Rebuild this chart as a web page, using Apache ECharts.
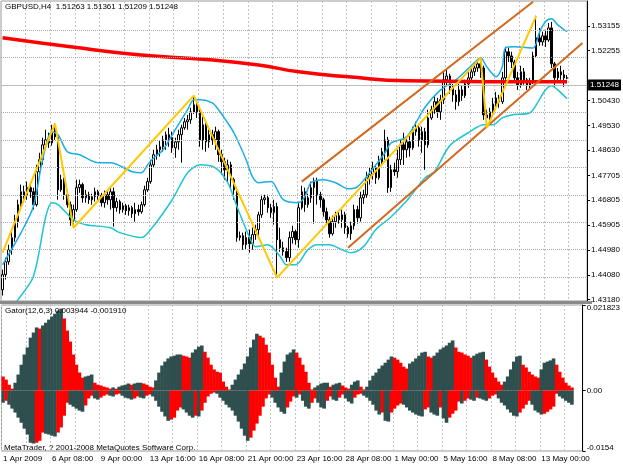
<!DOCTYPE html>
<html><head><meta charset="utf-8">
<script src="https://cdn.jsdelivr.net/npm/echarts@6/dist/echarts.min.js"></script>
<style>html,body{margin:0;padding:0;background:#fff}#c{width:623px;height:467px}</style>
</head><body><div id="c"></div>
<script>
const symbolTitle = 'GBPUSD,H4';
const lastQuote = [1.51263, 1.51361, 1.51209, 1.51248]; // open, high, low, close of the last bar
const opens = [
1.4354,1.4409,1.4456,1.4500,1.4544,1.4602,1.4664,1.4711,1.4697,1.4726,
1.4711,1.4664,1.4784,1.4828,1.4882,1.4900,1.4889,1.4937,1.4911,1.4718,
1.4755,1.4700,1.4664,1.4609,1.4646,1.4726,1.4737,1.4689,1.4700,1.4682,
1.4693,1.4711,1.4697,1.4671,1.4700,1.4682,1.4711,1.4653,1.4675,1.4646,
1.4660,1.4642,1.4653,1.4631,1.4646,1.4638,1.4664,1.4718,1.4748,1.4809,
1.4846,1.4864,1.4875,1.4900,1.4919,1.4908,1.4871,1.4893,1.4919,1.4944,
1.4966,1.4973,1.5002,1.5028,1.5002,1.4900,1.4955,1.4893,1.4919,1.4900,
1.4930,1.4846,1.4820,1.4791,1.4809,1.4755,1.4718,1.4544,1.4551,1.4518,
1.4544,1.4522,1.4555,1.4573,1.4627,1.4682,1.4689,1.4653,1.4635,1.4657,
1.4536,1.4507,1.4493,1.4471,1.4544,1.4566,1.4536,1.4653,1.4711,1.4664,
1.4689,1.4726,1.4748,1.4700,1.4682,1.4638,1.4609,1.4558,1.4602,1.4624,
1.4609,1.4627,1.4580,1.4558,1.4587,1.4646,1.4616,1.4689,1.4700,1.4762,
1.4773,1.4798,1.4762,1.4820,1.4857,1.4900,1.4726,1.4791,1.4784,1.4828,
1.4882,1.4864,1.4893,1.4871,1.4930,1.4944,1.4900,1.4930,1.4882,1.4980,
1.5010,1.5039,1.5002,1.5046,1.5119,1.5133,1.5090,1.5064,1.5039,1.5082,
1.5061,1.5104,1.5126,1.5148,1.5162,1.5177,1.5162,1.4991,1.4980,1.5002,
1.5031,1.5053,1.5039,1.5126,1.5221,1.5206,1.5184,1.5126,1.5101,1.5148,
1.5119,1.5097,1.5112,1.5206,1.5272,1.5257,1.5279,1.5264,1.5308,1.5177,
1.5126,1.5148,1.5137];
const closes = [
1.4409,1.4456,1.4500,1.4544,1.4602,1.4664,1.4711,1.4697,1.4726,1.4711,
1.4664,1.4784,1.4828,1.4882,1.4900,1.4889,1.4937,1.4911,1.4718,1.4755,
1.4700,1.4664,1.4609,1.4646,1.4726,1.4737,1.4689,1.4700,1.4682,1.4693,
1.4711,1.4697,1.4671,1.4700,1.4682,1.4711,1.4653,1.4675,1.4646,1.4660,
1.4642,1.4653,1.4631,1.4646,1.4638,1.4664,1.4718,1.4748,1.4809,1.4846,
1.4864,1.4875,1.4900,1.4919,1.4908,1.4871,1.4893,1.4919,1.4944,1.4966,
1.4973,1.5002,1.5028,1.5002,1.4900,1.4955,1.4893,1.4919,1.4900,1.4930,
1.4846,1.4820,1.4791,1.4809,1.4755,1.4718,1.4544,1.4551,1.4518,1.4544,
1.4522,1.4555,1.4573,1.4627,1.4682,1.4689,1.4653,1.4635,1.4657,1.4536,
1.4507,1.4493,1.4471,1.4544,1.4566,1.4536,1.4653,1.4711,1.4664,1.4689,
1.4726,1.4748,1.4700,1.4682,1.4638,1.4609,1.4558,1.4602,1.4624,1.4609,
1.4627,1.4580,1.4558,1.4587,1.4646,1.4616,1.4689,1.4700,1.4762,1.4773,
1.4798,1.4762,1.4820,1.4857,1.4900,1.4726,1.4791,1.4784,1.4828,1.4882,
1.4864,1.4893,1.4871,1.4930,1.4944,1.4900,1.4930,1.4882,1.4980,1.5010,
1.5039,1.5002,1.5046,1.5119,1.5133,1.5090,1.5064,1.5039,1.5082,1.5061,
1.5104,1.5126,1.5148,1.5162,1.5177,1.5162,1.4991,1.4980,1.5002,1.5031,
1.5053,1.5039,1.5126,1.5221,1.5206,1.5184,1.5126,1.5101,1.5148,1.5119,
1.5097,1.5112,1.5206,1.5272,1.5257,1.5279,1.5264,1.5308,1.5177,1.5126,
1.5148,1.5137,1.5126];
const highs = [
1.4427,1.4471,1.4518,1.4566,1.4627,1.4682,1.4737,1.4733,1.4748,1.4744,
1.4726,1.4809,1.4853,1.4908,1.4937,1.4926,1.4955,1.4959,1.4919,1.4773,
1.4762,1.4718,1.4675,1.4664,1.4755,1.4755,1.4744,1.4718,1.4711,1.4704,
1.4726,1.4718,1.4707,1.4715,1.4718,1.4729,1.4726,1.4689,1.4682,1.4671,
1.4667,1.4664,1.4660,1.4671,1.4664,1.4675,1.4733,1.4762,1.4828,1.4864,
1.4882,1.4897,1.4915,1.4930,1.4944,1.4930,1.4908,1.4937,1.4955,1.4980,
1.4991,1.5017,1.5061,1.5046,1.5017,1.4984,1.4966,1.4944,1.4937,1.4948,
1.4937,1.4864,1.4835,1.4828,1.4820,1.4762,1.4726,1.4566,1.4562,1.4566,
1.4573,1.4580,1.4591,1.4638,1.4700,1.4700,1.4700,1.4667,1.4682,1.4671,
1.4580,1.4529,1.4507,1.4566,1.4587,1.4573,1.4675,1.4733,1.4726,1.4704,
1.4748,1.4762,1.4762,1.4711,1.4689,1.4653,1.4620,1.4624,1.4638,1.4638,
1.4646,1.4638,1.4587,1.4602,1.4664,1.4660,1.4711,1.4718,1.4784,1.4798,
1.4820,1.4809,1.4842,1.4871,1.4937,1.4911,1.4809,1.4817,1.4864,1.4900,
1.4926,1.4908,1.4919,1.4948,1.4966,1.4955,1.4948,1.4944,1.5010,1.5024,
1.5061,1.5053,1.5064,1.5148,1.5155,1.5141,1.5104,1.5082,1.5104,1.5097,
1.5119,1.5148,1.5166,1.5181,1.5192,1.5199,1.5170,1.5010,1.5017,1.5053,
1.5075,1.5064,1.5148,1.5239,1.5235,1.5221,1.5192,1.5148,1.5170,1.5162,
1.5126,1.5126,1.5221,1.5352,1.5308,1.5294,1.5301,1.5326,1.5330,1.5184,
1.5162,1.5170,1.5155];
const lows = [
1.4333,1.4391,1.4445,1.4482,1.4529,1.4580,1.4646,1.4671,1.4682,1.4689,
1.4646,1.4657,1.4769,1.4809,1.4864,1.4871,1.4879,1.4900,1.4682,1.4711,
1.4682,1.4653,1.4587,1.4580,1.4638,1.4707,1.4671,1.4671,1.4667,1.4664,
1.4675,1.4682,1.4657,1.4653,1.4664,1.4646,1.4584,1.4638,1.4631,1.4635,
1.4627,1.4624,1.4616,1.4602,1.4624,1.4631,1.4657,1.4711,1.4740,1.4798,
1.4828,1.4839,1.4857,1.4864,1.4875,1.4853,1.4835,1.4864,1.4817,1.4937,
1.4937,1.4959,1.4995,1.4980,1.4875,1.4864,1.4857,1.4871,1.4882,1.4864,
1.4820,1.4773,1.4755,1.4744,1.4718,1.4682,1.4529,1.4533,1.4500,1.4500,
1.4489,1.4500,1.4536,1.4547,1.4616,1.4664,1.4635,1.4616,1.4591,1.4398,
1.4493,1.4478,1.4456,1.4456,1.4522,1.4518,1.4507,1.4646,1.4638,1.4653,
1.4671,1.4595,1.4664,1.4653,1.4620,1.4595,1.4544,1.4551,1.4580,1.4595,
1.4580,1.4558,1.4544,1.4536,1.4573,1.4595,1.4602,1.4667,1.4689,1.4737,
1.4755,1.4740,1.4755,1.4809,1.4828,1.4707,1.4711,1.4769,1.4762,1.4809,
1.4809,1.4835,1.4839,1.4864,1.4915,1.4875,1.4853,1.4791,1.4871,1.4973,
1.4995,1.4980,1.4973,1.5031,1.5097,1.5068,1.5039,1.5010,1.5024,1.5042,
1.5053,1.5090,1.5112,1.5133,1.5148,1.5126,1.4973,1.4944,1.4966,1.4995,
1.5010,1.5017,1.5031,1.5119,1.5184,1.5162,1.5112,1.5082,1.5090,1.5101,
1.5082,1.5082,1.5104,1.5199,1.5243,1.5243,1.5239,1.5257,1.5162,1.5090,
1.5112,1.5119,1.5093];
const timeLabels = ['1 Apr 2009','6 Apr 08:00','9 Apr 00:00','13 Apr 16:00','16 Apr 08:00','21 Apr 00:00','23 Apr 16:00','28 Apr 08:00','1 May 00:00','5 May 16:00','8 May 08:00','13 May 00:00'];
const priceTicks = [1.53155,1.52255,1.50430,1.49530,1.48630,1.47705,1.46805,1.45905,1.44980,1.44080,1.43180];
const priceGridLevels = [1.53155,1.52255,1.51330,1.50430,1.49530,1.48630,1.47705,1.46805,1.45905,1.44980,1.44080];
const maLine = [[0,1.5272],[22,1.5239],[44,1.5210],[67,1.5192],[83,1.5173],[96,1.5148],[112,1.5130],[131,1.5115],[157,1.5112],[183,1.5112]];
const bandUpper = [[0,1.4445],[6,1.4562],[10,1.4657],[13,1.4828],[16,1.4930],[18,1.4919],[21,1.4857],[25,1.4846],[31,1.4817],[35,1.4817],[42,1.4784],[45,1.4780],[47,1.4809],[49,1.4834],[52,1.4863],[56,1.4937],[60,1.5010],[62,1.5046],[64,1.5046],[68,1.5035],[70,1.5010],[73,1.4962],[75,1.4926],[79,1.4827],[81,1.4766],[83,1.4744],[87,1.4748],[91,1.4682],[96,1.4671],[98,1.4693],[100,1.4744],[104,1.4755],[108,1.4744],[112,1.4722],[115,1.4729],[119,1.4780],[124,1.4853],[126,1.4889],[131,1.4911],[137,1.5020],[142,1.5082],[147,1.5119],[154,1.5192],[155,1.5199],[157,1.5166],[160,1.5130],[162,1.5166],[163,1.5235],[166,1.5239],[172,1.5235],[174,1.5290],[176,1.5330],[178,1.5341],[180,1.5319],[183,1.5294]];
const bandLower = [[0,1.4242],[5,1.4318],[10,1.4402],[14,1.4620],[16,1.4671],[18,1.4664],[23,1.4609],[27,1.4591],[35,1.4580],[38,1.4562],[45,1.4544],[48,1.4573],[55,1.4682],[60,1.4780],[64,1.4809],[69,1.4798],[73,1.4744],[76,1.4657],[80,1.4547],[82,1.4511],[86,1.4518],[90,1.4475],[92,1.4445],[95,1.4445],[99,1.4500],[102,1.4518],[106,1.4518],[110,1.4500],[113,1.4489],[117,1.4511],[121,1.4573],[126,1.4620],[131,1.4678],[137,1.4762],[140,1.4784],[144,1.4864],[146,1.4890],[151,1.4926],[156,1.4955],[159,1.4955],[162,1.4980],[165,1.4991],[171,1.4999],[174,1.5046],[176,1.5082],[178,1.5097],[180,1.5082],[183,1.5050]];
const zigzag = [[0,1.4489],[17,1.4959],[23,1.4580],[62,1.5061],[89,1.4398],[155,1.5199],[157,1.4944],[173,1.5352]];
const channelUpper = [[97,1.4748],[172,1.5403]];
const channelLower = [[112,1.4507],[188,1.5253]];
const gatorUp = [
0.0036,0.0028,0.0015,0.0005,0.0020,0.0041,0.0066,0.0092,0.0110,0.0135,
0.0148,0.0161,0.0158,0.0166,0.0173,0.0181,0.0189,0.0196,0.0204,0.0209,
0.0184,0.0153,0.0125,0.0092,0.0066,0.0046,0.0033,0.0036,0.0038,0.0041,
0.0020,0.0015,0.0013,0.0010,0.0008,0.0005,0.0008,0.0005,0.0010,0.0013,
0.0015,0.0018,0.0015,0.0018,0.0020,0.0020,0.0018,0.0015,0.0010,0.0008,
0.0026,0.0046,0.0064,0.0074,0.0082,0.0087,0.0089,0.0092,0.0092,0.0089,
0.0087,0.0084,0.0097,0.0105,0.0112,0.0115,0.0099,0.0084,0.0066,0.0054,
0.0048,0.0046,0.0023,0.0010,0.0003,0.0015,0.0028,0.0041,0.0054,0.0069,
0.0087,0.0110,0.0130,0.0145,0.0140,0.0135,0.0117,0.0097,0.0066,0.0033,
0.0010,0.0046,0.0074,0.0092,0.0097,0.0105,0.0097,0.0084,0.0066,0.0048,
0.0020,0.0003,0.0008,0.0013,0.0018,0.0020,0.0020,0.0010,0.0015,0.0018,
0.0020,0.0013,0.0008,0.0005,0.0015,0.0023,0.0026,0.0010,0.0003,0.0010,
0.0026,0.0038,0.0046,0.0056,0.0064,0.0071,0.0079,0.0087,0.0084,0.0079,
0.0071,0.0061,0.0056,0.0069,0.0074,0.0082,0.0089,0.0097,0.0099,0.0087,
0.0084,0.0089,0.0097,0.0105,0.0110,0.0115,0.0122,0.0128,0.0110,0.0099,
0.0097,0.0092,0.0089,0.0084,0.0089,0.0094,0.0097,0.0099,0.0079,0.0061,
0.0046,0.0033,0.0023,0.0015,0.0023,0.0036,0.0054,0.0074,0.0087,0.0089,
0.0066,0.0059,0.0048,0.0041,0.0036,0.0033,0.0054,0.0071,0.0074,0.0077,
0.0082,0.0066,0.0048,0.0033,0.0020,0.0013,0.0008];
const gatorDown = [
-0.0031,-0.0026,-0.0036,-0.0046,-0.0056,-0.0069,-0.0082,-0.0097,-0.0112,-0.0133,
-0.0135,-0.0133,-0.0128,-0.0107,-0.0110,-0.0112,-0.0115,-0.0117,-0.0107,-0.0094,
-0.0064,-0.0031,-0.0036,-0.0041,-0.0046,-0.0051,-0.0054,-0.0038,-0.0020,-0.0013,
-0.0020,-0.0023,-0.0018,-0.0013,-0.0010,-0.0013,-0.0015,-0.0010,-0.0008,-0.0013,
-0.0018,-0.0020,-0.0023,-0.0020,-0.0015,-0.0018,-0.0020,-0.0013,-0.0010,-0.0015,
-0.0026,-0.0041,-0.0054,-0.0066,-0.0077,-0.0074,-0.0069,-0.0051,-0.0043,-0.0048,
-0.0056,-0.0064,-0.0069,-0.0064,-0.0066,-0.0051,-0.0031,-0.0015,-0.0008,-0.0005,
-0.0008,-0.0018,-0.0026,-0.0036,-0.0043,-0.0051,-0.0064,-0.0079,-0.0097,-0.0115,
-0.0128,-0.0120,-0.0102,-0.0084,-0.0064,-0.0041,-0.0020,-0.0010,-0.0018,-0.0031,
-0.0043,-0.0054,-0.0059,-0.0043,-0.0028,-0.0015,-0.0018,-0.0010,-0.0026,-0.0041,
-0.0046,-0.0031,-0.0020,-0.0031,-0.0043,-0.0046,-0.0026,-0.0015,-0.0023,-0.0026,
-0.0018,-0.0010,-0.0020,-0.0028,-0.0033,-0.0018,-0.0010,-0.0008,-0.0013,-0.0018,
-0.0026,-0.0036,-0.0051,-0.0061,-0.0056,-0.0077,-0.0079,-0.0056,-0.0046,-0.0038,
-0.0033,-0.0036,-0.0043,-0.0051,-0.0056,-0.0061,-0.0064,-0.0066,-0.0048,-0.0043,
-0.0056,-0.0061,-0.0064,-0.0043,-0.0071,-0.0082,-0.0069,-0.0059,-0.0051,-0.0028,
-0.0033,-0.0026,-0.0020,-0.0023,-0.0026,-0.0018,-0.0020,-0.0023,-0.0026,-0.0020,
-0.0013,-0.0010,-0.0020,-0.0031,-0.0038,-0.0048,-0.0056,-0.0064,-0.0066,-0.0056,
-0.0046,-0.0036,-0.0026,-0.0036,-0.0051,-0.0056,-0.0061,-0.0059,-0.0054,-0.0048,
-0.0041,-0.0008,-0.0015,-0.0020,-0.0026,-0.0031,-0.0036];
const gatorTicks = [0.021823, 0, -0.0154];
const gatorTickText = ['0.021823', '0.00', '-0.0154'];
const gatorTitleValues = ['0.003944', '-0.001910'];

const BAR_COUNT = 190;
const cats = Array.from({length: BAR_COUNT}, (_, i) => String(i));
const candles = opens.map((o, i) => [o, closes[i], lows[i], highs[i]]);
candles.push([lastQuote[0], lastQuote[3], lastQuote[2], lastQuote[1]]);

const FONT = '"Liberation Sans", Arial, sans-serif';
const GRID_C = '#c4c4c4';
const HGRID_C = '#a9a9a9';
const UP_C = '#2f4f4f', DOWN_C = '#ff0000';
function gatorColor(arr, firstColor) {
  return p => {
    const i = p.dataIndex;
    if (i === 0) return firstColor;
    return Math.abs(arr[i]) < Math.abs(arr[i - 1]) ? DOWN_C : UP_C;
  };
}
const txt = {fontSize: 8, fontWeight: 'normal', color: '#000', fontFamily: FONT};

// horizontal dotted grid levels drawn as markLines on the price series
const gridMarks = priceGridLevels.map(v => ({
  yAxis: v, lineStyle: {color: HGRID_C, type: 'dotted', width: 1}, label: {show: false}
}));
const bidMark = {
  yAxis: lastQuote[3], lineStyle: {color: '#bdbdbd', type: 'solid', width: 1},
  label: {show: true, position: 'end', distance: 1, formatter: lastQuote[3].toFixed(5), color: '#fff',
    backgroundColor: '#000', padding: [2, 2, 1, 2], fontSize: 8, fontFamily: FONT}
};

const chart = echarts.init(document.getElementById('c'), null, {renderer: 'canvas'});
chart.setOption({
  animation: false,
  backgroundColor: '#ffffff',
  textStyle: {fontFamily: FONT},
  title: [
    {text: symbolTitle + '  ' + lastQuote.map(v => v.toFixed(5)).join(' '), left: 5, top: 3, padding: 0, textStyle: txt},
    {text: 'Gator(12,6,3) ' + gatorTitleValues.join(' '), left: 5, top: 307, padding: 0, textStyle: txt},
    {text: 'MetaTrader, ? 2001-2008 MetaQuotes Software Corp.', left: 4, top: 444, padding: 0, textStyle: txt}
  ],
  graphic: [
    {type: 'rect', z: 100, shape: {x: 0, y: 301, width: 592, height: 3}, style: {fill: '#8a8a8a'}}
  ],
  grid: [
    {left: 1, top: 1, width: 591, height: 300, show: true, borderColor: '#9a9a9a', borderWidth: 1},
    {left: 1, top: 305, width: 591, height: 146, show: true, borderColor: '#9a9a9a', borderWidth: 1}
  ],
  xAxis: [
    {type: 'category', gridIndex: 0, data: cats, boundaryGap: true,
     axisLine: {show: false}, axisTick: {show: false}, axisLabel: {show: false},
     splitLine: {show: true, interval: 7, lineStyle: {color: GRID_C, type: [2, 2], width: 1}}},
    {type: 'category', gridIndex: 1, data: cats, boundaryGap: true,
     axisLine: {show: false},
     axisTick: {show: true, interval: 15, alignWithLabel: true, length: 3, lineStyle: {color: '#000'}},
     axisLabel: {show: true, interval: 15, align: 'left', margin: 4, fontSize: 8, color: '#000', fontFamily: FONT,
       formatter: (v, idx) => (idx % 16 === 0 && timeLabels[idx / 16]) ? timeLabels[idx / 16] : ''},
     splitLine: {show: true, interval: 7, lineStyle: {color: GRID_C, type: [2, 2], width: 1}}}
  ],
  yAxis: [
    {type: 'value', gridIndex: 0, position: 'right', min: 1.4313, max: 1.5406,
     axisLine: {show: true, lineStyle: {color: '#000', width: 1}},
     axisTick: {show: true, customValues: priceTicks, length: 3, lineStyle: {color: '#000'}},
     axisLabel: {show: true, customValues: priceTicks, formatter: v => v.toFixed(5), margin: 4, fontSize: 8, color: '#000', fontFamily: FONT},
     splitLine: {show: false}},
    {type: 'value', gridIndex: 1, position: 'right', min: -0.0154, max: 0.021823,
     axisLine: {show: true, lineStyle: {color: '#000', width: 1}},
     axisTick: {show: true, customValues: gatorTicks, length: 3, lineStyle: {color: '#000'}},
     axisLabel: {show: true, customValues: gatorTicks, margin: 4, fontSize: 8, color: '#000', fontFamily: FONT,
       formatter: v => {
         const k = gatorTicks.indexOf(v);
         const t = k >= 0 ? gatorTickText[k] : '';
         if (k === 0) return '{t|' + t + '}';
         if (k === 2) return '{b|' + t + '}';
         return t;
       },
       rich: {t: {padding: [6, 0, 0, 0], fontSize: 8, fontFamily: FONT}, b: {padding: [0, 0, 7, 0], fontSize: 8, fontFamily: FONT}}},
     splitLine: {show: false}}
  ],
  series: [
    {type: 'candlestick', name: 'GBPUSD', xAxisIndex: 0, yAxisIndex: 0, data: candles, barWidth: 2, z: 2,
     itemStyle: {color: '#ffffff', color0: '#000000', borderColor: '#000000', borderColor0: '#000000', borderWidth: 1},
     markLine: {silent: true, symbol: 'none', animation: false, data: gridMarks.concat([bidMark])}},
    {type: 'line', name: 'BandUpper', xAxisIndex: 0, yAxisIndex: 0, data: bandUpper, smooth: 0.3, showSymbol: false, z: 3,
     lineStyle: {color: '#19aee8', width: 1.5}},
    {type: 'line', name: 'BandLower', xAxisIndex: 0, yAxisIndex: 0, data: bandLower, smooth: 0.3, showSymbol: false, z: 3,
     lineStyle: {color: '#1cc6d4', width: 1.5}},
    {type: 'line', name: 'MA', xAxisIndex: 0, yAxisIndex: 0, data: maLine, smooth: true, showSymbol: false, z: 4,
     lineStyle: {color: '#ff0000', width: 3.5}},
    {type: 'line', name: 'ChannelUpper', xAxisIndex: 0, yAxisIndex: 0, data: channelUpper, showSymbol: false, z: 5,
     lineStyle: {color: '#d2691e', width: 2}},
    {type: 'line', name: 'ChannelLower', xAxisIndex: 0, yAxisIndex: 0, data: channelLower, showSymbol: false, z: 5,
     lineStyle: {color: '#d2691e', width: 2}},
    {type: 'line', name: 'ZigZag', xAxisIndex: 0, yAxisIndex: 0, data: zigzag, showSymbol: false, z: 6,
     lineStyle: {color: '#ffc800', width: 2}},
    {type: 'bar', name: 'GatorUp', xAxisIndex: 1, yAxisIndex: 1, data: gatorUp, barWidth: 3.6, barGap: '-100%', z: 2,
     itemStyle: {color: gatorColor(gatorUp, DOWN_C)}},
    {type: 'bar', name: 'GatorDown', xAxisIndex: 1, yAxisIndex: 1, data: gatorDown, barWidth: 3.6, barGap: '-100%', z: 2,
     itemStyle: {color: gatorColor(gatorDown, UP_C)}}
  ]
});
</script>
</body></html>
